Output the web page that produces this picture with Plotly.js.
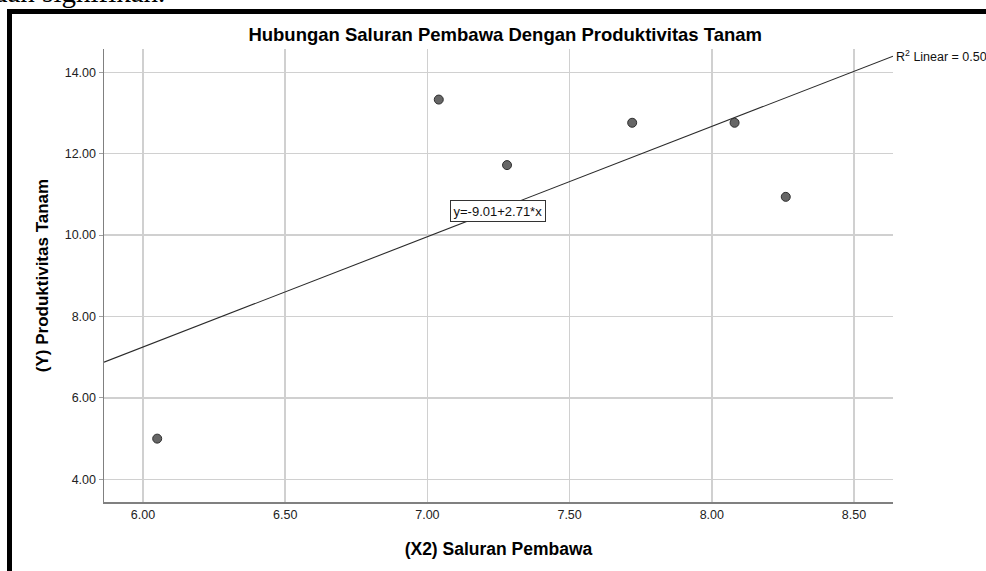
<!DOCTYPE html>
<html>
<head>
<meta charset="utf-8">
<script src="https://cdn.plot.ly/plotly-3.0.1.min.js"></script>
<style>
  html, body { margin: 0; padding: 0; background: #ffffff; }
  #wrap { position: relative; width: 986px; height: 571px; overflow: hidden; }
  #chart { position: absolute; left: 0; top: 0; width: 986px; height: 571px; }
  #cuttext { position: absolute; left: -7px; top: -24px; font-family: "Liberation Serif", "Times New Roman", serif; font-size: 29px; color: #000; white-space: nowrap; z-index: 5; }
  #frame { position: absolute; left: 7px; top: 9px; width: 1000px; height: 600px; border-left: 5px solid #000; border-top: 5px solid #000; z-index: 4; pointer-events: none; }
</style>
</head>
<body>
<div id="wrap">
  <div id="chart"></div>
  <div id="frame"></div>
  <div id="cuttext">dan signifikan.</div>
</div>
<script>
// Data
const saluranPembawa = [6.05, 7.04, 7.28, 7.72, 8.08, 8.26];      // X2
const produktivitas  = [5.00, 13.33, 11.72, 12.76, 12.76, 10.94]; // Y
const fitIntercept = -9.01;
const fitSlope = 2.71;
const rSquared = 0.50;
const xTicks = [6.0, 6.5, 7.0, 7.5, 8.0, 8.5];
const yTicks = [4, 6, 8, 10, 12, 14];

const xRange = [5.863, 8.637];
const yRange = [3.443, 14.5725];

const fitX = [xRange[0], xRange[1]];
const fitY = fitX.map(v => fitIntercept + fitSlope * v);

const font = '"Liberation Sans", Arial, sans-serif';

const traces = [
  {
    x: fitX, y: fitY, type: 'scatter', mode: 'lines',
    line: { color: '#2b2b2b', width: 1.1 },
    hoverinfo: 'skip', showlegend: false
  },
  {
    x: saluranPembawa, y: produktivitas, type: 'scatter', mode: 'markers',
    marker: { size: 9, color: '#666666', line: { color: '#2e2e2e', width: 1 } },
    showlegend: false
  }
];

const layout = {
  width: 986, height: 571, autosize: false,
  margin: { l: 104, r: 93, t: 49, b: 69, pad: 0 },
  paper_bgcolor: '#ffffff', plot_bgcolor: '#ffffff',
  font: { family: font, color: '#222222', size: 12.5 },
  title: {
    text: '<b>Hubungan Saluran Pembawa Dengan Produktivitas Tanam</b>',
    font: { family: font, size: 18.5, color: '#000000' },
    x: 0.5085, xanchor: 'center', xref: 'paper',
    y: 1 - 35 / 571, yanchor: 'middle', yref: 'container'
  },
  xaxis: {
    range: xRange, tickvals: xTicks, tickformat: '.2f',
    showgrid: true, gridcolor: '#d0d0d0', gridwidth: 1.5,
    showline: true, linecolor: '#808080', linewidth: 1.5,
    ticks: 'outside', ticklen: 0, tickcolor: '#808080',
    zeroline: false, mirror: false,
    tickfont: { family: font, size: 12.5, color: '#222222' },
    title: { text: '<b>(X2) Saluran Pembawa</b>', font: { family: font, size: 17.5, color: '#000000' }, standoff: 22 }
  },
  yaxis: {
    range: yRange, tickvals: yTicks, tickformat: '.2f',
    showgrid: true, gridcolor: '#d0d0d0', gridwidth: 1.5,
    showline: true, linecolor: '#808080', linewidth: 1.5,
    ticks: 'outside', ticklen: 4, tickcolor: '#a0a0a0',
    zeroline: false,
    tickfont: { family: font, size: 12.5, color: '#222222' },
    title: { text: '<b>(Y) Produktivitas Tanam</b>', font: { family: font, size: 17, color: '#000000' }, standoff: 12 }
  },
  annotations: [
    {
      xref: 'paper', x: 1, yref: 'y', y: fitIntercept + fitSlope * xRange[1],
      xanchor: 'left', yanchor: 'middle', xshift: 1,
      text: 'R<sup>2</sup> Linear = ' + rSquared.toFixed(2),
      showarrow: false, font: { family: font, size: 12.5, color: '#111111' }
    },
    {
      xref: 'x', x: 7.248, yref: 'y', y: 10.59,
      xanchor: 'center', yanchor: 'middle',
      text: 'y=' + fitIntercept.toFixed(2) + '+' + fitSlope.toFixed(2) + '*x',
      showarrow: false, font: { family: font, size: 13, color: '#111111' },
      bgcolor: '#ffffff', bordercolor: '#333333', borderwidth: 1, borderpad: 2.5
    }
  ]
};

Plotly.newPlot('chart', traces, layout, { staticPlot: true, displayModeBar: false });
</script>
</body>
</html>
